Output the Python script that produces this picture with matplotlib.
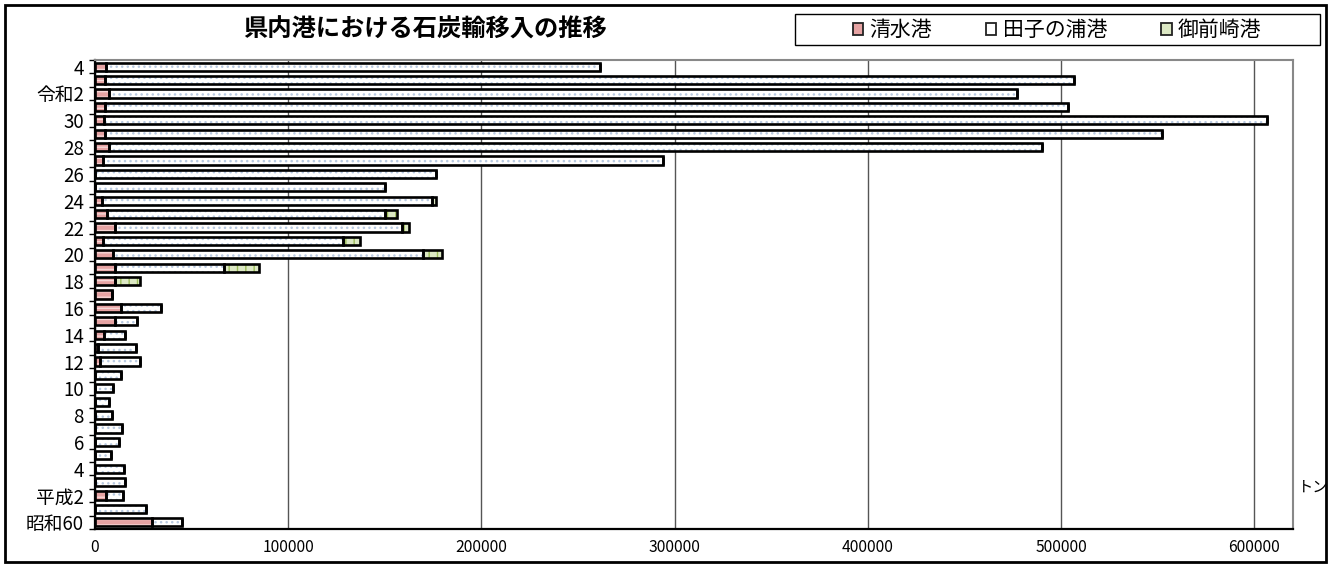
import matplotlib
matplotlib.use("Agg")
import matplotlib.pyplot as plt
from matplotlib.patches import Rectangle, Patch
import numpy as np

plt.rcParams['font.family'] = ['Noto Sans CJK JP', 'DejaVu Sans']

# 年（昭和60〜令和4）
years = ["昭和60", "平成元", "平成2", "3", "4", "5", "6", "7", "8", "9", "10",
         "11", "12", "13", "14", "15", "16", "17", "18", "19", "20", "21",
         "22", "23", "24", "25", "26", "27", "28", "29", "30", "令和元",
         "令和2", "3", "4"]

# トン
shimizu = [29400, 0, 5600, 0, 0, 0, 0, 0, 0, 0, 0,
           0, 2800, 1500, 4600, 10100, 13700, 8900, 10600, 10100, 9400, 4200,
           10100, 6300, 3700, 0, 0, 4200, 7200, 5400, 4900, 5400,
           7200, 5400, 5900]
tagonoura = [15800, 26300, 8800, 15600, 14900, 8500, 12500, 14200, 9000, 7100, 9200,
             13200, 20400, 19800, 11000, 11700, 20500, 0, 0, 56900, 160100, 124400,
             148700, 143900, 170900, 150300, 176500, 289800, 482800, 546600, 601400, 498000,
             469800, 501100, 255500]
omaezaki = [0, 0, 0, 0, 0, 0, 0, 0, 0, 0, 0,
            0, 0, 0, 0, 0, 0, 0, 12900, 17700, 10300, 8700,
            3500, 6100, 2100, 0, 0, 0, 0, 0, 0, 0,
            0, 0, 0]

series = [
    ("清水港", shimizu, "#E6A3A3", "#F6D6D6", "---"),
    ("田子の浦港", tagonoura, "white", "#B8C9E0", "..."),
    ("御前崎港", omaezaki, "#DCE8C4", "#9BBB59", "||"),
]

W, H = 1331, 567
fig = plt.figure(figsize=(W / 100, H / 100), dpi=100)
ax = fig.add_axes([95 / W, 1 - 529 / H, (1293 - 95) / W, (529 - 60) / H])

y = np.arange(len(years))
left = np.zeros(len(years))
handles = []
for name, vals, fc, hc, hatch in series:
    vals = np.array(vals, dtype=float)
    ax.barh(y, vals, left=left, height=0.62, color=fc, edgecolor=hc,
            hatch=hatch, linewidth=0, zorder=2)
    ax.barh(y, vals, left=left, height=0.62, fill=False, edgecolor="black",
            linewidth=1.9, zorder=3)
    left += vals
    handles.append(Patch(facecolor=fc, edgecolor="#222222", linewidth=1.3, label=name))

ax.set_xlim(0, 620000)
ax.set_ylim(-0.5, len(years) - 0.5)
ax.set_xticks(np.arange(0, 600001, 100000))
ax.set_xticklabels([str(v) for v in range(0, 600001, 100000)], fontsize=11.3)
ax.set_yticks(y)
ax.set_yticklabels([lab if i % 2 == 0 else "" for i, lab in enumerate(years)],
                   fontsize=13.5)
ax.set_yticks(np.arange(-0.5, len(years), 1), minor=True)
ax.tick_params(axis="y", which="major", length=0, pad=8)
ax.tick_params(axis="y", which="minor", length=4, width=1, direction="out")
ax.tick_params(axis="x", length=0, pad=7)
ax.grid(axis="x", color="#555555", linewidth=1, zorder=1)
ax.set_axisbelow(True)

for s in ("top", "right"):
    ax.spines[s].set_color("#888888")
    ax.spines[s].set_linewidth(1.5)
ax.spines["left"].set_linewidth(1.6)
ax.spines["bottom"].set_linewidth(1.6)

ax.text(1.004, 0.09, "トン", transform=ax.transAxes, fontsize=11,
        ha="left", va="center")

fig.text(425 / W, 1 - 30 / H, "県内港における石炭輸移入の推移", fontsize=17.5,
         fontweight="bold", ha="center", va="center")

# 凡例（枠は別に描く）
leg = fig.legend(handles=handles, loc="center", ncol=3,
                 bbox_to_anchor=(1057 / W, 1 - 30 / H),
                 fontsize=15, frameon=False,
                 handlelength=0.5, handleheight=0.5, handletextpad=0.3,
                 columnspacing=2.6, borderpad=0.2)
fig.patches.append(Rectangle((795 / W, 1 - 45 / H), 525 / W, 31 / H,
                             transform=fig.transFigure, fill=False,
                             edgecolor="black", linewidth=1.0))

fig.patches.append(Rectangle((5 / W, 5 / H), (W - 10) / W, (H - 10) / H,
                             transform=fig.transFigure, fill=False,
                             edgecolor="black", linewidth=2))

fig.savefig("out.png", dpi=100)
